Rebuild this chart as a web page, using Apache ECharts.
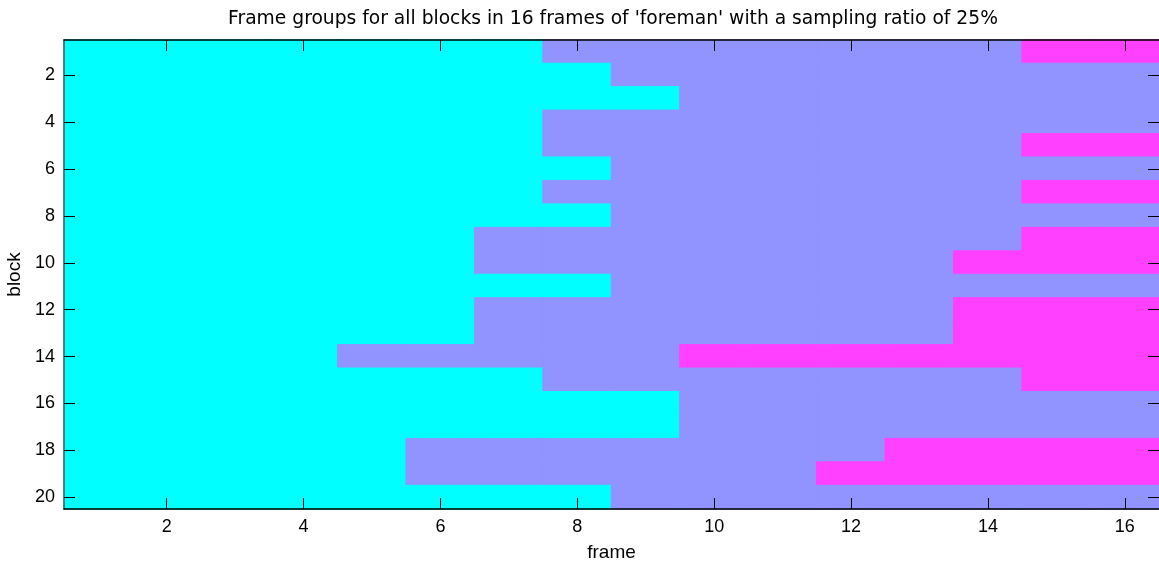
<!DOCTYPE html>
<html><head><meta charset="utf-8">
<script src="https://cdn.jsdelivr.net/npm/echarts@6/dist/echarts.min.js"></script>
<style>html,body{margin:0;padding:0;background:#fff}#c{width:1159px;height:561px}</style>
</head><body><div id="c"></div>
<script>
const frames = ['1','2','3','4','5','6','7','8','9','10','11','12','13','14','15','16'];
const blocks = ['1','2','3','4','5','6','7','8','9','10','11','12','13','14','15','16','17','18','19','20'];
// group per block (rows) and frame (columns): 1 = cyan, 2 = lavender, 3 = magenta
const b01 = [1,1,1,1,1,1,1,2,2,2,2,2,2,2,3,3];
const b02 = [1,1,1,1,1,1,1,1,2,2,2,2,2,2,2,2];
const b03 = [1,1,1,1,1,1,1,1,1,2,2,2,2,2,2,2];
const b04 = [1,1,1,1,1,1,1,2,2,2,2,2,2,2,2,2];
const b05 = [1,1,1,1,1,1,1,2,2,2,2,2,2,2,3,3];
const b06 = [1,1,1,1,1,1,1,1,2,2,2,2,2,2,2,2];
const b07 = [1,1,1,1,1,1,1,2,2,2,2,2,2,2,3,3];
const b08 = [1,1,1,1,1,1,1,1,2,2,2,2,2,2,2,2];
const b09 = [1,1,1,1,1,1,2,2,2,2,2,2,2,2,3,3];
const b10 = [1,1,1,1,1,1,2,2,2,2,2,2,2,3,3,3];
const b11 = [1,1,1,1,1,1,1,1,2,2,2,2,2,2,2,2];
const b12 = [1,1,1,1,1,1,2,2,2,2,2,2,2,3,3,3];
const b13 = [1,1,1,1,1,1,2,2,2,2,2,2,2,3,3,3];
const b14 = [1,1,1,1,2,2,2,2,2,3,3,3,3,3,3,3];
const b15 = [1,1,1,1,1,1,1,2,2,2,2,2,2,2,3,3];
const b16 = [1,1,1,1,1,1,1,1,1,2,2,2,2,2,2,2];
const b17 = [1,1,1,1,1,1,1,1,1,2,2,2,2,2,2,2];
const b18 = [1,1,1,1,1,2,2,2,2,2,2,2,3,3,3,3];
const b19 = [1,1,1,1,1,2,2,2,2,2,2,3,3,3,3,3];
const b20 = [1,1,1,1,1,1,1,1,2,2,2,2,2,2,2,2];
const rows = [b01,b02,b03,b04,b05,b06,b07,b08,b09,b10,b11,b12,b13,b14,b15,b16,b17,b18,b19,b20];
const groupColors = {1: '#00FFFF', 2: '#9194FF', 3: '#FF40FF'};

const data = [];
rows.forEach((r, bi) => r.forEach((g, fi) => {
  const c = groupColors[g];
  data.push({value: [fi, bi, g], itemStyle: {color: c, borderColor: c, borderWidth: 1}});
}));

const evenOnly = (idx) => idx % 2 === 1;
const font = 'Liberation Sans, Arial, sans-serif';
const tickStyle = {show: true, inside: true, length: 11, interval: evenOnly, alignWithLabel: true, lineStyle: {color: '#000', width: 1}};

const chart = echarts.init(document.getElementById('c'));
chart.setOption({
  animation: false,
  backgroundColor: '#fff',
  title: {
    text: "Frame groups for all blocks in 16 frames of 'foreman' with a sampling ratio of 25%",
    left: 608, textAlign: 'center', top: 5,
    textStyle: {fontFamily: 'DejaVu Sans', fontSize: 18.7, fontWeight: 'normal', color: '#000'}
  },
  grid: {left: 64, right: 0, top: 40, bottom: 52, outerBoundsMode: 'none', containLabel: false},
  xAxis: [{
    type: 'category', data: frames, position: 'bottom', z: 10,
    name: 'frame', nameLocation: 'middle', nameGap: 34,
    nameTextStyle: {fontFamily: font, fontSize: 19, color: '#000'},
    axisLine: {show: true, lineStyle: {color: '#000', width: 1.5}},
    axisTick: tickStyle,
    axisLabel: {interval: evenOnly, fontFamily: font, fontSize: 18, color: '#000', margin: 9},
    splitLine: {show: false}
  }, {
    type: 'category', data: frames, position: 'top', z: 10,
    axisLine: {show: true, lineStyle: {color: '#000', width: 1.5}},
    axisTick: tickStyle, axisLabel: {show: false}, splitLine: {show: false}
  }],
  yAxis: [{
    type: 'category', data: blocks, inverse: true, position: 'left', z: 10,
    name: 'block', nameLocation: 'middle', nameGap: 40, nameRotate: 90,
    nameTextStyle: {fontFamily: font, fontSize: 19, color: '#000'},
    axisLine: {show: true, lineStyle: {color: '#555', width: 1.5}},
    axisTick: tickStyle,
    axisLabel: {interval: evenOnly, fontFamily: font, fontSize: 18, color: '#000', margin: 9},
    splitLine: {show: false}
  }, {
    type: 'category', data: blocks, inverse: true, position: 'right', z: 10,
    axisLine: {show: false},
    axisTick: tickStyle, axisLabel: {show: false}, splitLine: {show: false}
  }],
  series: [{
    type: 'heatmap', xAxisIndex: 0, yAxisIndex: 0, data: data,
    emphasis: {disabled: true}
  }]
});
</script></body></html>
